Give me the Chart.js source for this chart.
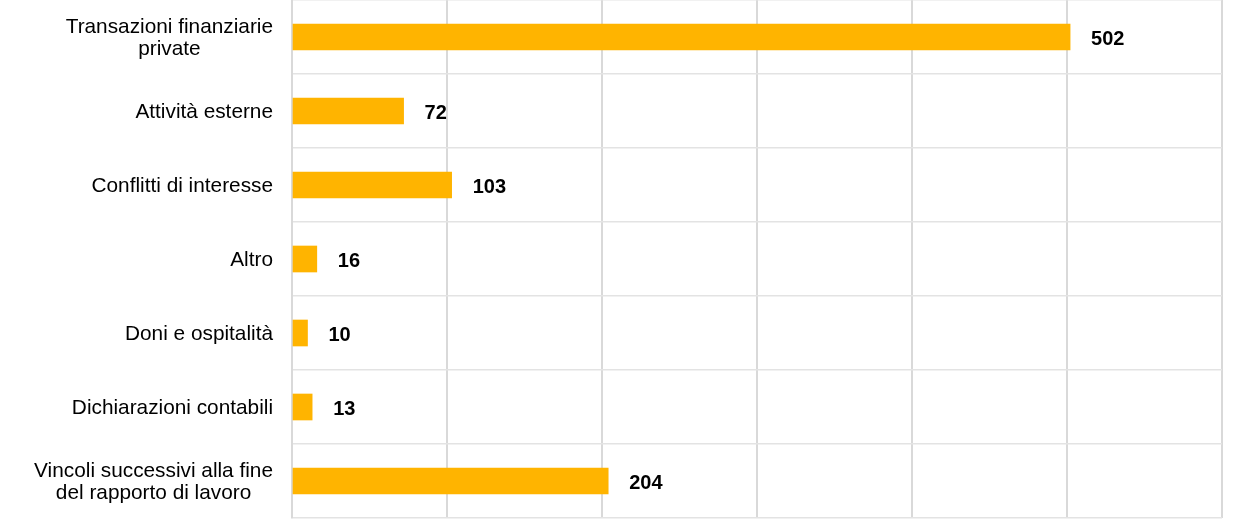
<!DOCTYPE html>
<html>
<head>
<meta charset="utf-8">
<script src="https://cdn.jsdelivr.net/npm/chart.js@4"></script>
<style>
html,body{margin:0;padding:0;background:#fff;}
#wrap{width:1240px;height:526px;}
</style>
</head>
<body>
<div id="wrap"><canvas id="c" width="1240" height="526"></canvas></div>
<script>
const categories = [
  ["Transazioni finanziarie", "private"],
  ["Attività esterne"],
  ["Conflitti di interesse"],
  ["Altro"],
  ["Doni e ospitalità"],
  ["Dichiarazioni contabili"],
  ["Vincoli successivi alla fine", "del rapporto di lavoro"]
];
const values = [502, 72, 103, 16, 10, 13, 204];
const xMin = 0, xMax = 600, xStep = 100;

const labelFont = '20.8px "Liberation Sans", Arial, sans-serif';
const valueFont = 'bold 20px "Liberation Sans", Arial, sans-serif';

const drawLabels = {
  id: 'drawLabels',
  afterDatasetsDraw(chart) {
    const ctx = chart.ctx;
    const y = chart.scales.y;
    const meta = chart.getDatasetMeta(0);
    ctx.save();
    ctx.font = labelFont;
    ctx.fillStyle = '#000';
    ctx.textBaseline = 'middle';
    ctx.textAlign = 'center';
    const rightEdge = 273;
    const lh = 22;
    categories.forEach((lines, i) => {
      const cy = y.getPixelForTick(i) + 1.5;
      const maxW = Math.max(...lines.map(l => ctx.measureText(l).width));
      const cx = rightEdge - maxW / 2;
      const start = cy - (lines.length - 1) * lh / 2;
      lines.forEach((l, k) => ctx.fillText(l, cx, start + k * lh));
    });
    ctx.font = valueFont;
    ctx.textAlign = 'left';
    meta.data.forEach((bar, i) => {
      ctx.fillText(String(values[i]), bar.x + 21, bar.y + 2);
    });
    ctx.restore();
  }
};

new Chart(document.getElementById('c'), {
  type: 'bar',
  data: {
    labels: categories,
    datasets: [{
      data: values,
      backgroundColor: '#FFB400',
      borderWidth: 0,
      barThickness: 26
    }]
  },
  options: {
    indexAxis: 'y',
    responsive: false,
    animation: false,
    layout: { padding: { top: 0, right: 18, bottom: 8, left: 0 } },
    plugins: { legend: { display: false }, tooltip: { enabled: false } },
    scales: {
      x: {
        min: xMin, max: xMax,
        ticks: { display: false, stepSize: xStep },
        grid: { color: '#d9d9d9', lineWidth: 2, drawTicks: false },
        border: { display: false },
        afterFit(s) { s.height = 0; }
      },
      y: {
        ticks: { display: false },
        grid: { color: '#e3e3e3', lineWidth: 1.5, offset: true, drawTicks: false },
        border: { display: true, color: '#d9d9d9', width: 2 },
        afterFit(s) { s.width = 292; }
      }
    }
  },
  plugins: [drawLabels]
});
</script>
</body>
</html>
